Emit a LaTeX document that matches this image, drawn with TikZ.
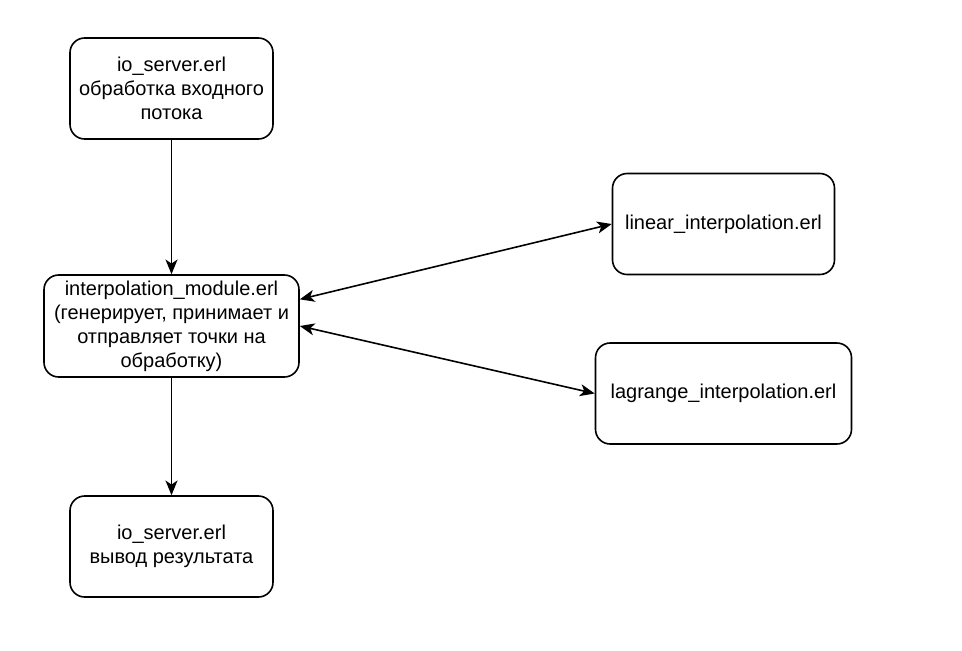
\documentclass[tikz,border=0pt]{standalone}
\usepackage{fontspec}
\setmainfont{Liberation Sans}
\usepackage{tikz}
\usetikzlibrary{positioning}
\usetikzlibrary{calc}
\usetikzlibrary{arrows.meta}
\tikzset{every picture/.style={line width=1.2pt},
modbox/.style={draw,rounded corners=11pt,minimum height=75.75pt,align=center,inner sep=2pt,font=\fontsize{15}{18}\selectfont},
flow/.style={-{Stealth[length=11pt,width=9pt,inset=3pt]}},
flowboth/.style={{Stealth[length=11pt,width=9pt,inset=3pt]}-{Stealth[length=11pt,width=9pt,inset=3pt]}}}

\begin{document}
\begin{tikzpicture}[x=0.75pt,y=-0.75pt]
\useasboundingbox (0,0) rectangle (962,650);
\node (in) at (171.5,88.5) [modbox,minimum width=152.25pt] {io\_server.erl\\обработка входного\\потока};
\node (mid) at (171.5,326) [modbox,minimum width=191.25pt,minimum height=76.5pt] {interpolation\_module.erl\\(генерирует, принимает и\\отправляет точки на\\обработку)};
\node (out) at (171.5,546.5) [modbox,minimum width=152.25pt] {io\_server.erl\\вывод результата};
\node (lin) at (723.5,224) [modbox,minimum width=166.5pt] {linear\_interpolation.erl};
\node (lag) at (723.5,393.5) [modbox,minimum width=192pt] {lagrange\_interpolation.erl};
\draw[flow] (in) -- (mid);
\draw[flow] (mid) -- (out);
\draw[flowboth] ([yshift=20pt]mid.east) -- (lin.west);
\draw[flowboth] (mid.east) -- (lag.west);
\end{tikzpicture}
\end{document}
